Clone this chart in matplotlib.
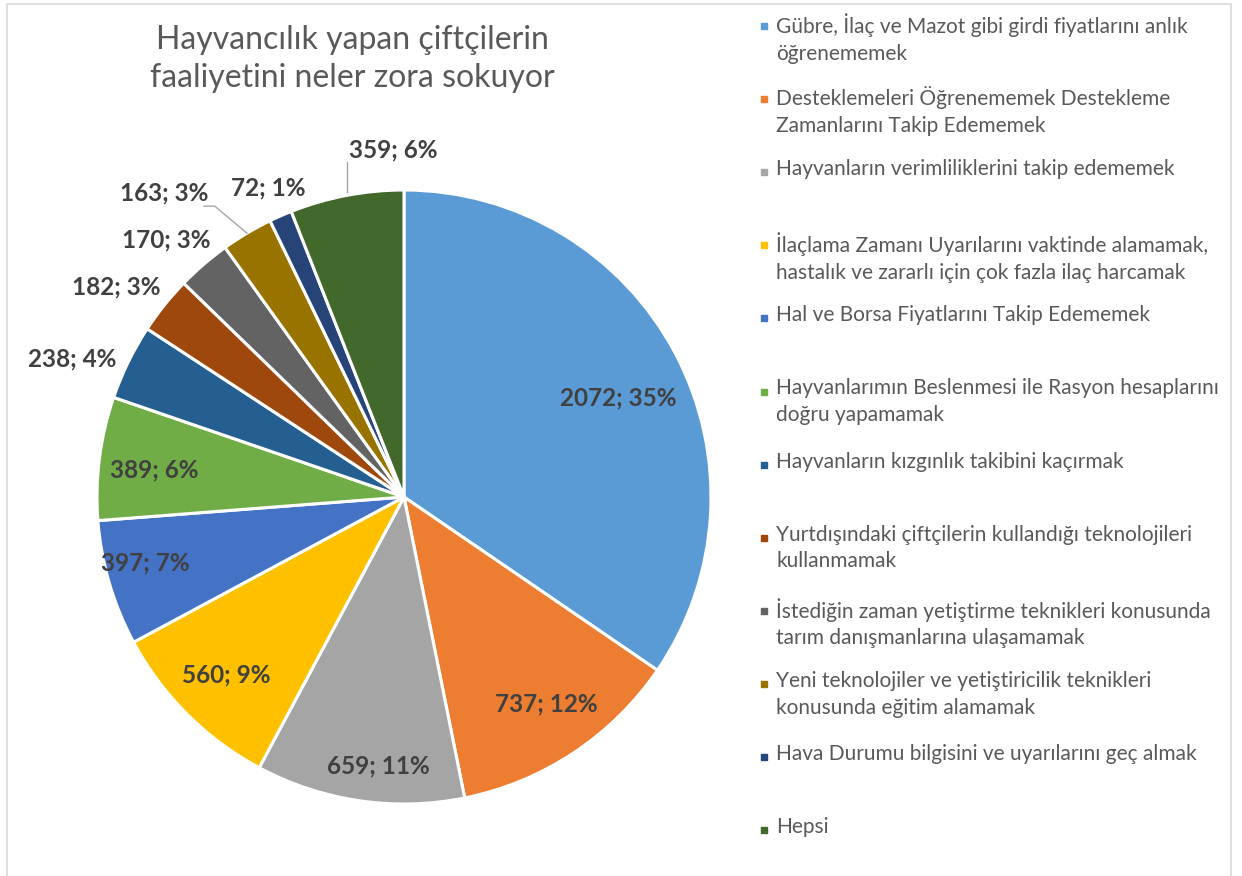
import numpy as np
import matplotlib.pyplot as plt
from matplotlib.patches import Rectangle

plt.rcParams['font.family'] = ['Lato', 'DejaVu Sans']

title = "Hayvancılık yapan çiftçilerin\nfaaliyetini neler zora sokuyor"

categories = [
    "Gübre, İlaç ve Mazot gibi girdi fiyatlarını anlık\nöğrenememek",
    "Desteklemeleri Öğrenememek Destekleme\nZamanlarını Takip Edememek",
    "Hayvanların verimliliklerini takip edememek",
    "İlaçlama Zamanı Uyarılarını vaktinde alamamak,\nhastalık ve zararlı için çok fazla ilaç harcamak",
    "Hal ve Borsa Fiyatlarını Takip Edememek",
    "Hayvanlarımın Beslenmesi ile Rasyon hesaplarını\ndoğru yapamamak",
    "Hayvanların kızgınlık takibini kaçırmak",
    "Yurtdışındaki çiftçilerin kullandığı teknolojileri\nkullanmamak",
    "İstediğin zaman yetiştirme teknikleri konusunda\ntarım danışmanlarına ulaşamamak",
    "Yeni teknolojiler ve yetiştiricilik teknikleri\nkonusunda eğitim alamamak",
    "Hava Durumu bilgisini ve uyarılarını geç almak",
    "Hepsi",
]
values = [2072, 737, 659, 560, 397, 389, 238, 182, 170, 163, 72, 359]
percents = [35, 12, 11, 9, 7, 6, 4, 3, 3, 3, 1, 6]

colors = ["#5B9BD5", "#ED7D31", "#A5A5A5", "#FFC000", "#4472C4", "#70AD47",
          "#255E91", "#9E480E", "#636363", "#997300", "#264478", "#43682B"]

# label placement (radius factor, angle nudge in degrees) - Excel "best fit"
lab_r = [0.77, 0.82, 0.88, 0.82, 0.87, 0.82, 1.17, 1.16, 1.14, 1.26, 1.10, 1.13]
lab_da = [-3, 1, 3, 0, -2, 1, 3.5, 2.5, 2, 7.5, 0, -9]

W, H = 1242, 876
cx, cy, R = 404, 497, 307

fig = plt.figure(figsize=(W / 100, H / 100), dpi=100)
ax = fig.add_axes([0, 0, 1, 1])

wedges, _ = ax.pie(values, colors=colors, startangle=90, counterclock=False,
                   radius=1, wedgeprops=dict(edgecolor='white', linewidth=2.2))
ax.set_xlim(-cx / R, (W - cx) / R)
ax.set_ylim((cy - H) / R, cy / R)
ax.set_aspect('equal')
ax.axis('off')

lab_col = "#404040"
for i, w in enumerate(wedges):
    mid = np.deg2rad((w.theta1 + w.theta2) / 2)
    ang = mid + np.deg2rad(lab_da[i])
    x, y = lab_r[i] * np.cos(ang), lab_r[i] * np.sin(ang)
    ax.text(x, y, f"{values[i]}; {percents[i]}%", ha='center', va='center',
            fontsize=17.5, fontweight='bold', color=lab_col)

# leader lines for the two labels pushed away from their slices
m9 = np.deg2rad((wedges[9].theta1 + wedges[9].theta2) / 2)
ex, ey = np.cos(m9), np.sin(m9)
ax.plot([ex, ex - 0.105, ex - 0.14], [ey, ey + 0.088, ey + 0.088],
        color='#a6a6a6', lw=1)
m11 = np.deg2rad((wedges[11].theta1 + wedges[11].theta2) / 2)
ex, ey = np.cos(m11), np.sin(m11)
ax.plot([ex, ex], [ey + 0.01, ey + 0.11], color='#a6a6a6', lw=1)

fig.text(352 / W, 1 - 59 / H, title, ha='center', va='center',
         fontsize=23, color='#595959', linespacing=1.35)

# legend
y0, step = 26, 73.1
for i, lab in enumerate(categories):
    yy = 1 - (y0 + step * i) / H
    fig.patches.append(Rectangle((761 / W, yy - 3 / H), 6 / W, 6 / H,
                                 transform=fig.transFigure, color=colors[i]))
    fig.text(776 / W, yy + 13 / H, lab, ha='left', va='top', fontsize=15,
             color='#595959', linespacing=1.42)

fig.patches.append(Rectangle((7 / W, -0.05), 1224 / W, 1 - 4 / H + 0.05,
                             transform=fig.transFigure, fill=False,
                             edgecolor='#d9d9d9', lw=1.2))

fig.savefig("out.png", dpi=100)
